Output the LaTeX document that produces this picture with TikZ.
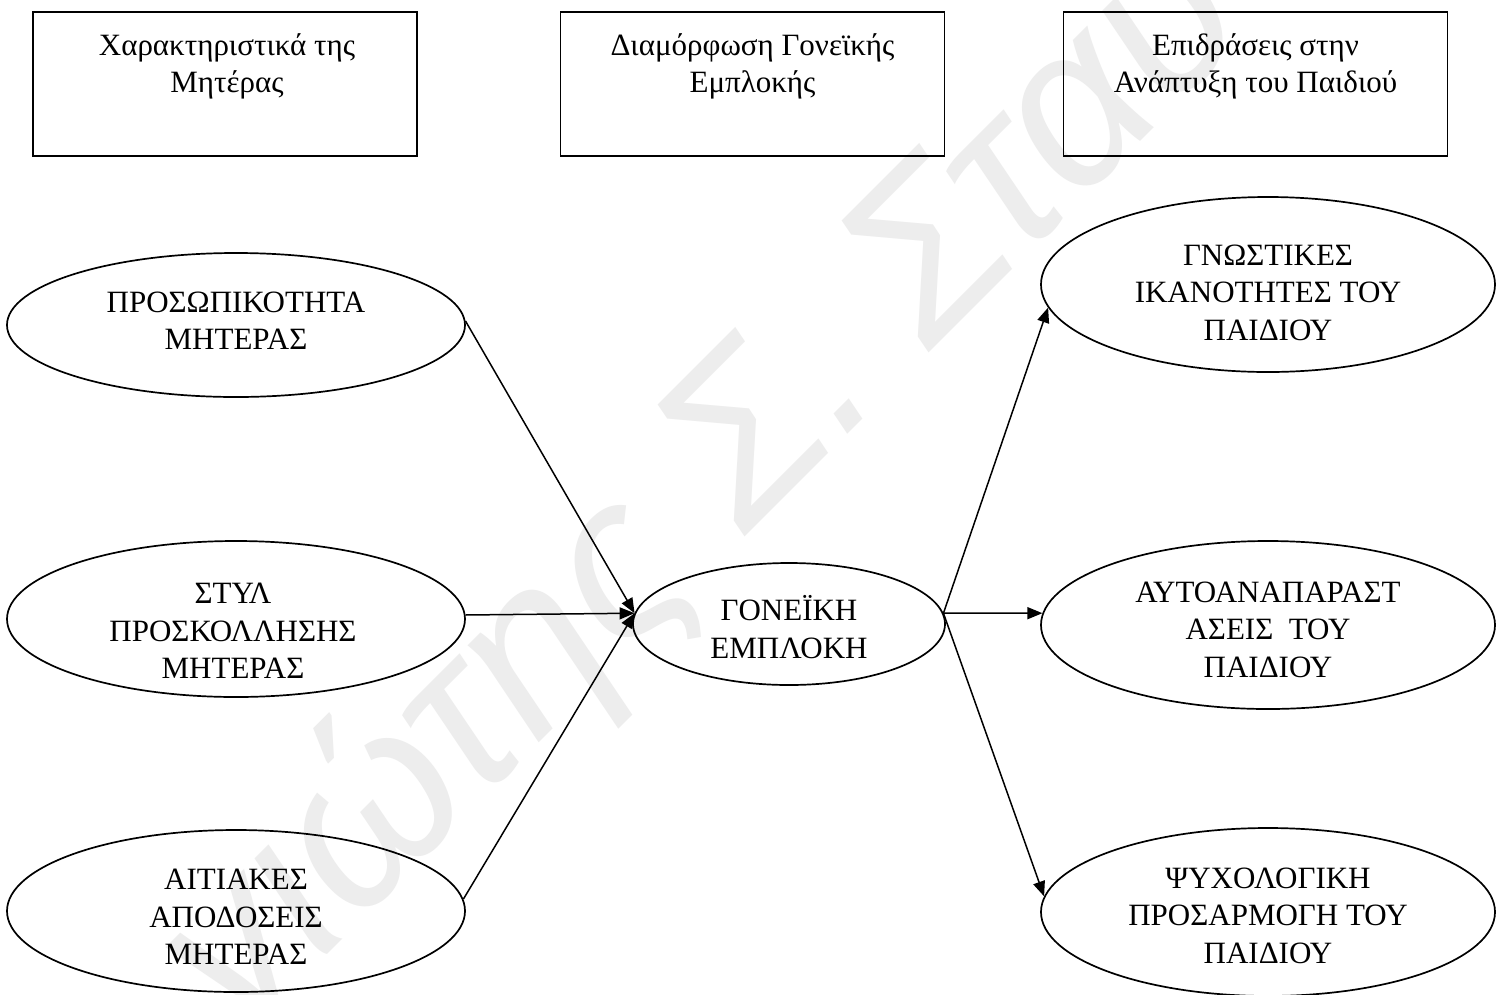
\documentclass[tikz,border=0pt]{standalone}
\usepackage{fontspec}
\setmainfont{Liberation Serif}
\newfontfamily\wmfont{Liberation Sans}
\usetikzlibrary{shapes.geometric,arrows.meta}

\tikzset{
  hbox/.style={draw, line width=1.6pt, minimum width=384pt, minimum height=144pt, inner sep=0pt},
  oval/.style={draw, ellipse, line width=1.7pt, inner sep=0pt},
  lbl/.style={align=center, inner sep=0pt, font=\fontsize{31}{37.5}\selectfont},
  arr/.style={line width=1.5pt, -{Triangle[length=15pt,width=12pt]}},
  wmark/.style={text=black!7, inner sep=0pt, font=\wmfont\itshape\fontsize{225}{225}\selectfont}
}

\begin{document}
\begin{tikzpicture}[x=1pt, y=-1pt]
  \useasboundingbox (0,0) rectangle (1504,994);
  \fill[white] (0,0) rectangle (1504,994);

  % faint diagonal name behind the chart
  \begin{scope}
    \clip (0,0) rectangle (1504,994);
    \node[wmark, rotate=45] (wm) at (705,490) {γιώτης Σ. Σταυ};
  \end{scope}

  % column headings
  \node[hbox] (b1) at (225,84) {};
  \node[hbox] (b2) at (752.5,84) {};
  \node[hbox] (b3) at (1255.5,84) {};
  \node[lbl, anchor=north] (t1) at (227,33) {Χαρακτηριστικά της\\Μητέρας};
  \node[lbl, anchor=north] (t2) at (752.5,33) {Διαμόρφωση Γονεϊκής\\Εμπλοκής};
  \node[lbl, anchor=north] (t3) at (1255.5,33) {Επιδράσεις στην\\Ανάπτυξη του Παιδιού};

  % mother characteristics
  \node[oval, minimum width=458pt, minimum height=144pt] (e1) at (236,325) {};
  \node[oval, minimum width=458pt, minimum height=156pt] (e2) at (236,619) {};
  \node[oval, minimum width=458pt, minimum height=162pt] (e3) at (236,911) {};
  \node[lbl] (l1) at (236,320.5) {ΠΡΟΣΩΠΙΚΟΤΗΤΑ\\ΜΗΤΕΡΑΣ};
  \node[lbl] (l2) at (233,631) {ΣΤΥΛ\\ΠΡΟΣΚΟΛΛΗΣΗΣ\\ΜΗΤΕΡΑΣ};
  \node[lbl] (l3) at (236,917) {ΑΙΤΙΑΚΕΣ\\ΑΠΟΔΟΣΕΙΣ\\ΜΗΤΕΡΑΣ};

  % parental involvement
  \node[oval, minimum width=312pt, minimum height=122pt] (c) at (789,624) {};
  \node[lbl] (lc) at (789,627) {ΓΟΝΕΪΚΗ\\ΕΜΠΛΟΚΗ};

  % effects on the child
  \node[oval, minimum width=454pt, minimum height=175pt] (r1) at (1268,284.5) {};
  \node[oval, minimum width=454pt, minimum height=168pt] (r2) at (1268,625) {};
  \node[oval, minimum width=454pt, minimum height=168pt] (r3) at (1268,912) {};
  \node[lbl] (m1) at (1268,292.5) {ΓΝΩΣΤΙΚΕΣ\\ΙΚΑΝΟΤΗΤΕΣ ΤΟΥ\\ΠΑΙΔΙΟΥ};
  \node[lbl] (m2) at (1268,629.5) {ΑΥΤΟΑΝΑΠΑΡΑΣΤ\\ΑΣΕΙΣ\ \ ΤΟΥ\\ΠΑΙΔΙΟΥ};
  \node[lbl] (m3) at (1268,915.5) {ΨΥΧΟΛΟΓΙΚΗ\\ΠΡΟΣΑΡΜΟΓΗ ΤΟΥ\\ΠΑΙΔΙΟΥ};

  % connectors
  \draw[arr] (e1.1) -- (c.176);
  \draw[arr] (e2.1.3) -- (c.176);
  \draw[arr] (e3.3) -- (c.176);
  \draw[arr] (c.4) -- (r1.186);
  \draw[arr] (c.4) -- (r2.177);
  \draw[arr] (c.4) -- (r3.176);
\end{tikzpicture}
\end{document}
